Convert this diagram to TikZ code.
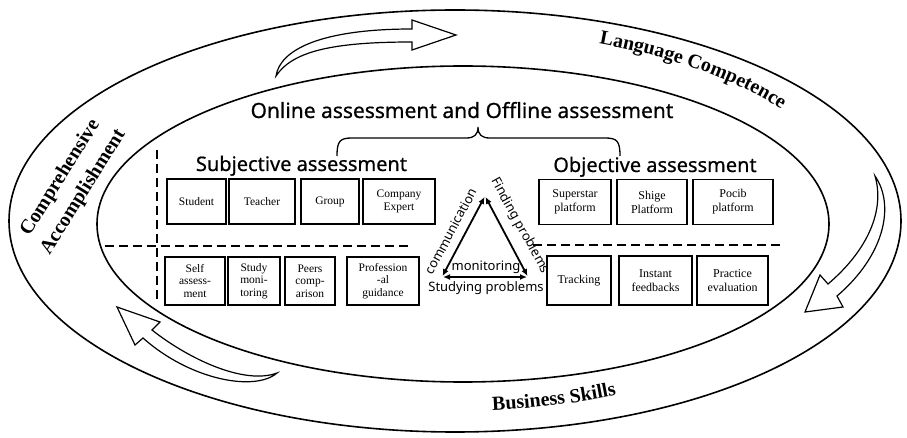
\documentclass[tikz,border=0pt]{standalone}
\usepackage{fontspec}
\setmainfont{Liberation Serif}
\newfontfamily\headfont{Noto Sans}[FakeBold=0.6]
\newfontfamily\trifont{Noto Sans}
\usetikzlibrary{arrows.meta,decorations.text}

\newcommand\ringfont{\bfseries\fontsize{20}{27}\selectfont}

\tikzset{
  ring/.style={line width=1.6pt},
  boxL/.style={draw, line width=1.3pt, inner sep=1pt, align=center,
    font=\fontsize{11.5}{12.5}\selectfont},
  boxR/.style={draw, line width=1.3pt, inner sep=1pt, align=center,
    font=\fontsize{12}{14}\selectfont},
  sepline/.style={line width=2.8pt, dash pattern=on 9pt off 5pt},
  bigarrow/.style={draw, fill=white, line width=1.2pt, line join=miter},
  cyclearrow/.style={line width=1.8pt, shorten <=1pt, shorten >=1pt,
    {Latex[length=7pt,width=6pt]}-{Latex[length=7pt,width=6pt]}},
  heading/.style={font=\headfont\fontsize{20}{24}\selectfont, anchor=base, inner sep=0pt},
  tri/.style={font=\trifont\fontsize{13}{15}\selectfont, inner sep=0pt},
}

\begin{document}
\begin{tikzpicture}[x=1pt,y=-1pt]
\useasboundingbox (0,0) rectangle (907,438);

% outer and inner rings
\draw[ring] (455,221) ellipse[x radius=446, y radius=211];
\draw[ring] (463,224) ellipse[x radius=366, y radius=158];

% hollow curved arrows circulating between the rings
\path[bigarrow] (276,76) .. controls (280,50) and (320,29) .. (412,29)
  -- (412,20) -- (456,35) -- (412,50) -- (412,42)
  .. controls (330,42) and (292,52) .. cycle;
\path[bigarrow] (875,176) .. controls (895,205) and (885,255) .. (837,296)
  -- (843,307) -- (805,312) -- (820,275) -- (828,284)
  .. controls (868,250) and (885,210) .. cycle;
\path[bigarrow] (117,307) -- (160,322) -- (152,330)
  .. controls (190,360) and (245,385) .. (277,373)
  .. controls (255,392) and (190,380) .. (143,338) -- (135,345) -- cycle;

% ring labels
\path[decorate, decoration={text along path, text align=center,
    text={|\ringfont|Language Competence}}]
  ([shift={(-77:403 and 190)}]455,221) arc[start angle=-77, end angle=-24, x radius=403, y radius=190];
\path[decorate, decoration={text along path, text align=center,
    text={|\ringfont|Business Skills}}]
  ([shift={(100:403 and 190)}]455,221) arc[start angle=100, end angle=49, x radius=403, y radius=190];
\node[font=\ringfont, rotate=58, align=center, inner sep=0pt] (compr) at (72,185)
  {Comprehensive\\Accomplishment};

% headings and brace
\node[heading, font=\headfont\fontsize{21}{25}\selectfont] (online) at (462,118)
  {Online assessment and Offline assessment};
\draw[line width=1.3pt] (337,156) .. controls (337,141) and (340,138) .. (352,138)
  -- (466,138) .. controls (474,138) and (478,135) .. (478,127)
  .. controls (478,135) and (482,138) .. (490,138)
  -- (605,138) .. controls (617,138) and (620,141) .. (620,156);
\node[heading] (subj) at (301.5,171) {Subjective assessment};
\node[heading] (obj) at (655,172) {Objective assessment};

% separating dashed lines
\draw[sepline] (157,150) -- (157,301);
\draw[sepline] (105,246) -- (412,246);
\draw[sepline] (533,245) -- (780,245);

% subjective assessment boxes
\node[boxL, minimum width=59pt, minimum height=45pt] (student) at (196.5,201.5) {Student};
\node[boxL, minimum width=66pt, minimum height=45pt] (teacher) at (262,201.5) {Teacher};
\node[boxL, minimum width=58pt, minimum height=45pt] (group) at (330,201.5) {Group};
\node[boxL, minimum width=72pt, minimum height=45pt] (expert) at (399,201.5) {Company\\Expert};
\node[boxL, minimum width=60pt, minimum height=48pt] (self) at (195,281) {Self\\assess-\\ment};
\node[boxL, minimum width=52pt, minimum height=48pt] (studymon) at (254,281) {Study\\moni-\\toring};
\node[boxL, minimum width=50pt, minimum height=48pt] (peers) at (310,281) {Peers\\comp-\\arison};
\node[boxL, minimum width=72pt, minimum height=48pt] (prof) at (383,281) {Profession\\-al\\guidance};

% objective assessment boxes
\node[boxR, minimum width=72pt, minimum height=45pt] (superstar) at (575,202) {Superstar\\platform};
\node[boxR, minimum width=70pt, minimum height=45pt] (shige) at (652,202) {Shige\\Platform};
\node[boxR, minimum width=80pt, minimum height=45pt] (pocib) at (733,202) {Pocib\\platform};
\node[boxR, minimum width=64pt, minimum height=49pt] (tracking) at (579,280.5) {Tracking};
\node[boxR, minimum width=73pt, minimum height=49pt] (instant) at (655.5,280.5) {Instant\\feedbacks};
\node[boxR, minimum width=71pt, minimum height=49pt] (practice) at (732.5,280.5) {Practice\\evaluation};

% central cycle
\coordinate (tTop) at (485,196);
\coordinate (tLeft) at (442,277);
\coordinate (tRight) at (528,277);
\draw[cyclearrow] (tLeft) -- (tTop);
\draw[cyclearrow] (tTop) -- (tRight);
\draw[cyclearrow] (tLeft) -- (tRight);
\node[tri, rotate=62] (comm) at (451,231) {communication};
\node[tri, rotate=-61] (finding) at (520,226) {Finding problems};
\node[tri, anchor=base] (monitor) at (486,270) {monitoring};
\node[tri, anchor=base] (studying) at (486,291) {Studying problems};
\end{tikzpicture}
\end{document}
